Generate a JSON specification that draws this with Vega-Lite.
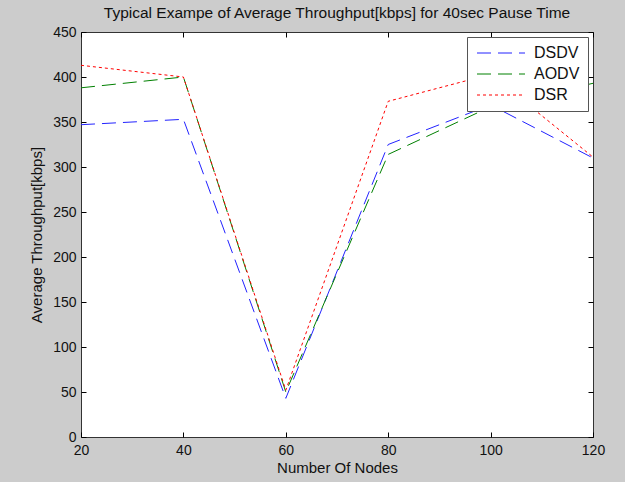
{
  "$schema": "https://vega.github.io/schema/vega-lite/v6.json",
  "width": 512,
  "height": 405,
  "autosize": {"type": "none"},
  "padding": {"left": 81, "top": 32, "right": 32, "bottom": 45},
  "background": "#cccccc",
  "config": {
    "font": "Liberation Sans",
    "view": {"fill": "white", "stroke": "#333333", "strokeWidth": 1},
    "axis": {
      "grid": false,
      "domain": false,
      "labelFlush": false,
      "labelFontSize": 14,
      "labelColor": "#111111",
      "titleFontSize": 15,
      "titleFontWeight": "normal",
      "titleColor": "#111111",
      "zindex": 2
    }
  },
  "title": {
    "text": "Typical Exampe of Average Throughput[kbps] for 40sec Pause Time",
    "fontSize": 15.5,
    "fontWeight": "normal",
    "color": "#111111",
    "anchor": "middle",
    "frame": "group",
    "offset": 4
  },
  "data": {
    "values": [
      {"nodes": 20, "protocol": "DSDV", "throughput": 347},
      {"nodes": 40, "protocol": "DSDV", "throughput": 353},
      {"nodes": 60, "protocol": "DSDV", "throughput": 43},
      {"nodes": 80, "protocol": "DSDV", "throughput": 325},
      {"nodes": 100, "protocol": "DSDV", "throughput": 369},
      {"nodes": 120, "protocol": "DSDV", "throughput": 310},
      {"nodes": 20, "protocol": "AODV", "throughput": 388},
      {"nodes": 40, "protocol": "AODV", "throughput": 400},
      {"nodes": 60, "protocol": "AODV", "throughput": 50},
      {"nodes": 80, "protocol": "AODV", "throughput": 314},
      {"nodes": 100, "protocol": "AODV", "throughput": 367},
      {"nodes": 120, "protocol": "AODV", "throughput": 393},
      {"nodes": 20, "protocol": "DSR", "throughput": 413},
      {"nodes": 40, "protocol": "DSR", "throughput": 400},
      {"nodes": 60, "protocol": "DSR", "throughput": 52},
      {"nodes": 80, "protocol": "DSR", "throughput": 373},
      {"nodes": 100, "protocol": "DSR", "throughput": 403},
      {"nodes": 120, "protocol": "DSR", "throughput": 311}
    ]
  },
  "layer": [
    {
      "mark": {"type": "line", "strokeWidth": 1},
      "encoding": {
        "x": {
          "field": "nodes", "type": "quantitative",
          "scale": {"domain": [20, 120], "nice": false, "zero": false},
          "axis": {"orient": "bottom", "values": [20, 40, 60, 80, 100, 120], "title": "Number Of Nodes", "labelPadding": 6, "titlePadding": 3, "ticks": true, "tickSize": 5, "tickColor": "#000000", "tickWidth": 1, "tickOpacity": 1, "offset": -5}
        },
        "y": {
          "field": "throughput", "type": "quantitative",
          "scale": {"domain": [0, 450], "nice": false},
          "axis": {"orient": "left", "values": [0, 50, 100, 150, 200, 250, 300, 350, 400, 450], "title": "Average Throughput[kbps]", "labelPadding": 5, "titlePadding": 8, "ticks": true, "tickSize": 5, "tickColor": "#000000", "tickWidth": 1, "tickOpacity": 1, "offset": -5}
        },
        "color": {
          "field": "protocol", "type": "nominal",
          "scale": {"domain": ["DSDV", "AODV", "DSR"], "range": ["#2222ff", "#008000", "#ff0000"]},
          "legend": {
            "title": null, "orient": "top-right", "offset": 5,
            "fillColor": "white", "strokeColor": "#555555", "padding": 8,
            "labelFontSize": 16, "labelColor": "#111111",
            "symbolType": "M-1,0H7", "symbolStrokeWidth": 1, "symbolSize": 144,
            "labelOffset": 43, "rowPadding": 5
          }
        },
        "strokeDash": {
          "field": "protocol", "type": "nominal",
          "scale": {"domain": ["DSDV", "AODV", "DSR"], "range": [[14, 7], [14, 7], [3, 3]]},
          "legend": {
            "title": null, "orient": "top-right", "offset": 5,
            "fillColor": "white", "strokeColor": "#555555", "padding": 8,
            "labelFontSize": 16, "labelColor": "#111111",
            "symbolType": "M-1,0H7", "symbolStrokeWidth": 1, "symbolSize": 144,
            "labelOffset": 43, "rowPadding": 5
          }
        }
      }
    },
    {
      "mark": {"type": "line", "strokeOpacity": 0},
      "encoding": {
        "x": {
          "field": "nodes", "type": "quantitative",
          "axis": {"orient": "top", "values": [20, 40, 60, 80, 100, 120], "labels": false, "title": null, "ticks": true, "tickSize": 5, "tickColor": "#000000", "tickWidth": 1, "tickOpacity": 1, "offset": -5}
        },
        "y": {
          "field": "throughput", "type": "quantitative",
          "axis": {"orient": "right", "values": [0, 50, 100, 150, 200, 250, 300, 350, 400, 450], "labels": false, "title": null, "ticks": true, "tickSize": 5, "tickColor": "#000000", "tickWidth": 1, "tickOpacity": 1, "offset": -5}
        },
        "detail": {"field": "protocol"}
      }
    }
  ],
  "resolve": {"axis": {"x": "independent", "y": "independent"}}
}
